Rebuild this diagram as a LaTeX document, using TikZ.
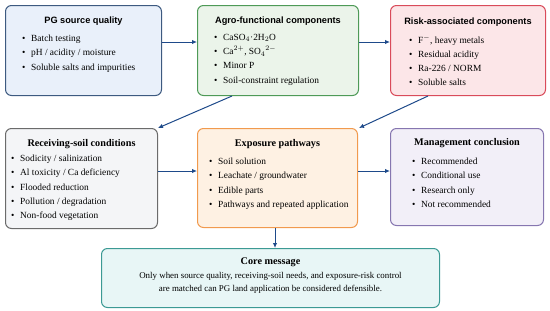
\documentclass[tikz,border=0pt]{standalone}
\usepackage{fontspec}
\setmainfont{Liberation Serif}
\setsansfont{Liberation Sans}
\usetikzlibrary{positioning,arrows.meta}
\definecolor{srcfill}{HTML}{E9F0FA}\definecolor{srcline}{HTML}{3D5A80}
\definecolor{agrofill}{HTML}{EBF4EA}\definecolor{agroline}{HTML}{4E9A57}
\definecolor{riskfill}{HTML}{FCE6E8}\definecolor{riskline}{HTML}{D94B5A}
\definecolor{soilfill}{HTML}{F4F5F7}\definecolor{soilline}{HTML}{6B6B6B}
\definecolor{expfill}{HTML}{FEF1E3}\definecolor{expline}{HTML}{F19A4E}
\definecolor{mgmtfill}{HTML}{F2EFF8}\definecolor{mgmtline}{HTML}{8676B0}
\definecolor{corefill}{HTML}{E8F6F6}\definecolor{coreline}{HTML}{3C9A94}
\definecolor{flow}{HTML}{1E4A8A}
\newcommand{\itm}[1]{\makebox[9pt][l]{\textbullet}#1}
\tikzset{
  box/.style={draw, line width=1pt, rounded corners=6pt, anchor=north west, inner sep=0pt},
  toptitle/.style={font=\sffamily\bfseries\fontsize{9.2}{10}\selectfont, inner sep=0pt},
  lowtitle/.style={font=\bfseries\fontsize{10.2}{11}\selectfont, inner sep=0pt},
  items/.style={font=\fontsize{9.4}{14.2}\selectfont, align=left, inner sep=0pt, anchor=north west},
  flowarrow/.style={draw=flow, line width=1pt, -{Latex[length=5pt,width=4.5pt]}},
}
\begin{document}
\begin{tikzpicture}[x=1pt,y=-1pt]
    \useasboundingbox (0,0) rectangle (550,311);
    % top row
    \node[box, fill=srcfill, draw=srcline, minimum width=156pt, minimum height=90pt] (src) at (5,5) {};
    \node[box, fill=agrofill, draw=agroline, minimum width=161pt, minimum height=90pt] (agro) at (197,5) {};
    \node[box, fill=riskfill, draw=riskline, minimum width=155pt, minimum height=90pt] (risk) at (390,5) {};
    % middle row
    \node[box, fill=soilfill, draw=soilline, minimum width=152pt, minimum height=100pt] (soil) at (5,128) {};
    \node[box, fill=expfill, draw=expline, minimum width=160pt, minimum height=99pt] (exp) at (197,128) {};
    \node[box, fill=mgmtfill, draw=mgmtline, minimum width=153pt, minimum height=97pt] (mgmt) at (390,128) {};
    % core message
    \node[box, fill=corefill, draw=coreline, minimum width=338pt, minimum height=59pt] (core) at (101,248) {};

    \node[toptitle, below=12pt of src.north] (srcT) {PG source quality};
    \node[items] (srcL) at ([shift={(17,30)}]src.north west) {\itm{Batch testing}\\ \itm{pH / acidity / moisture}\\ \itm{Soluble salts and impurities}};

    \node[toptitle, below=12pt of agro.north] (agroT) {Agro-functional components};
    \node[items] (agroL) at ([shift={(17,29)}]agro.north west) {\itm{CaSO$_4$·2H$_2$O}\\ \itm{Ca$^{2+}$, SO$_4$$^{2-}$}\\ \itm{Minor P}\\ \itm{Soil-constraint regulation}};

    \node[toptitle, below=13pt of risk.north] (riskT) {Risk-associated components};
    \node[items] (riskL) at ([shift={(19,30)}]risk.north west) {\itm{F$^{-}$, heavy metals}\\ \itm{Residual acidity}\\ \itm{Ra-226 / NORM}\\ \itm{Soluble salts}};

    \node[lowtitle, below=11pt of soil.north] (soilT) {Receiving-soil conditions};
    \node[items] (soilL) at ([shift={(6,27)}]soil.north west) {\itm{Sodicity / salinization}\\ \itm{Al toxicity / Ca deficiency}\\ \itm{Flooded reduction}\\ \itm{Pollution / degradation}\\ \itm{Non-food vegetation}};

    \node[lowtitle, below=11pt of exp.north] (expT) {Exposure pathways};
    \node[items] (expL) at ([shift={(12,30)}]exp.north west) {\itm{Soil solution}\\ \itm{Leachate / groundwater}\\ \itm{Edible parts}\\ \itm{Pathways and repeated application}};

    \node[lowtitle, below=10pt of mgmt.north] (mgmtT) {Management conclusion};
    \node[items] (mgmtL) at ([shift={(22,30)}]mgmt.north west) {\itm{Recommended}\\ \itm{Conditional use}\\ \itm{Research only}\\ \itm{Not recommended}};

    \node[lowtitle, below=10pt of core.north] (coreT) {Core message};
    \node[font=\fontsize{8.9}{12.5}\selectfont, align=center, inner sep=0pt, below=5pt of coreT] (coreX)
        {Only when source quality, receiving-soil needs, and exposure-risk control\\ are matched can PG land application be considered defensible.};

    % connectors
    \draw[flowarrow] ([yshift=-37pt]src.north east) -- ([yshift=-37pt]agro.north west);
    \draw[flowarrow] ([yshift=-37pt]agro.north east) -- ([yshift=-37pt]risk.north west);
    \draw[flowarrow] ([xshift=35pt]agro.south west) -- (soil.north east);
    \draw[flowarrow] ([xshift=38pt]risk.south west) -- ([xshift=1pt]exp.north east);
    \draw[flowarrow] ([yshift=-43pt]soil.north east) -- ([yshift=-43pt]exp.north west);
    \draw[flowarrow] ([yshift=-43pt]exp.north east) -- ([yshift=-43pt]mgmt.north west);
    \draw[flowarrow] ([xshift=78pt]exp.south west) -- ([xshift=78pt,yshift=0pt]exp.south west |- core.north);
\end{tikzpicture}
\end{document}
